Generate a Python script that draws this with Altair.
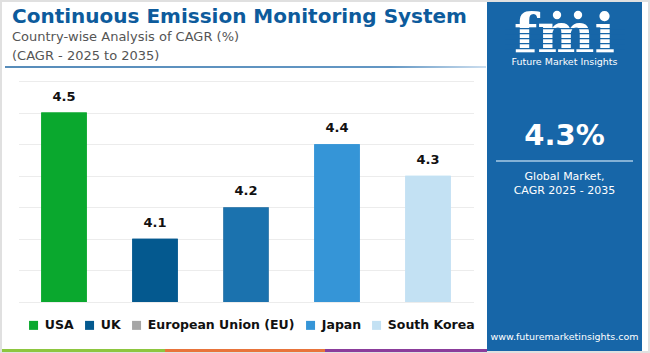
import altair as alt
import pandas as pd

# ---------------- data ----------------
countries = ["USA", "UK", "European Union (EU)", "Japan", "South Korea"]
cagr = [4.5, 4.1, 4.2, 4.4, 4.3]
bar_colors = ["#0aa82e", "#04598f", "#1b72ae", "#3595d7", "#c3e1f3"]
legend_colors = ["#0aa82e", "#04598f", "#a6a6a6", "#3595d7", "#c3e1f3"]
y_ticks = [3.9, 4.0, 4.1, 4.2, 4.3, 4.4, 4.5, 4.6]
y_base = 3.9

title_text = "Continuous Emission Monitoring System"
subtitle_1 = "Country-wise Analysis of CAGR (%)"
subtitle_2 = "(CAGR - 2025 to 2035)"
global_cagr = "4.3%"
panel_line_1 = "Global Market,"
panel_line_2 = "CAGR 2025 - 2035"
logo_text = "fmi"
brand_text = "Future Market Insights"
website_text = "www.futuremarketinsights.com"

# ---------------- layout ----------------
OX, OY = 18.5, 81
W, H = 455, 221
FONT = "DejaVu Sans"
PANEL = "#1766a8"

df = pd.DataFrame({"country": countries, "cagr": cagr, "region": countries})
one = pd.DataFrame({"k": [0]})


def px(v):
    return alt.value(v - OX)


def py(v):
    return alt.value(v - OY)


x_enc = alt.X("country:N", sort=countries,
              scale=alt.Scale(paddingInner=0.5, paddingOuter=0.25), axis=None)
y_enc = alt.Y("cagr:Q", scale=alt.Scale(domain=[y_ticks[0], y_ticks[-1]], zero=False, nice=False),
              axis=alt.Axis(values=y_ticks, grid=True, gridColor="#ececec", gridWidth=1,
                            labels=False, ticks=False, domain=False, title=None))

base = alt.Chart(df)

# under-layer bars carry the legend (legend swatch colours)
legend_bars = base.mark_bar().encode(
    x=x_enc, y=y_enc, y2=alt.datum(y_base),
    color=alt.Color("region:N", sort=countries,
                    scale=alt.Scale(domain=countries, range=legend_colors),
                    legend=alt.Legend(orient="none", legendX=8.8, legendY=238,
                                      direction="horizontal", title=None,
                                      symbolType="square", symbolSize=81,
                                      symbolOpacity=1, symbolStrokeWidth=0,
                                      labelFont=FONT, labelFontSize=12.5,
                                      labelFontWeight="bold", labelColor="#111111",
                                      labelLimit=300, columnPadding=9,
                                      labelOffset=5, padding=0)),
)

# visible bars
bars = base.mark_bar().encode(
    x=x_enc, y=y_enc, y2=alt.datum(y_base),
    fill=alt.Fill("country:N", sort=countries,
                  scale=alt.Scale(domain=countries, range=bar_colors), legend=None),
)

labels = base.mark_text(dy=-9, baseline="bottom", font=FONT, fontSize=13,
                        fontWeight="bold", color="#111111").encode(
    x=x_enc, y=y_enc, text=alt.Text("cagr:Q", format=".1f"))

dec = alt.Chart(one)

frame = dec.mark_rect(fillOpacity=0, stroke="#e0e0e0", strokeWidth=2).encode(
    x=px(1), x2=px(649), y=py(1), y2=py(352))

panel = dec.mark_rect(fill=PANEL).encode(x=px(487), x2=px(642), y=py(2), y2=py(351))

strip_g = dec.mark_rect(fill="#8dc63f").encode(x=px(2), x2=px(165), y=py(349), y2=py(352))
strip_o = dec.mark_rect(fill="#e8743b").encode(x=px(165), x2=px(325), y=py(349), y2=py(352))
strip_p = dec.mark_rect(fill="#8b3d9b").encode(x=px(325), x2=px(487), y=py(349), y2=py(352))

underline = dec.mark_rect(
    fill=alt.LinearGradient(gradient="linear", x1=0, x2=1, y1=0, y2=0,
                            stops=[alt.GradientStop(color="#1f66a3", offset=0),
                                   alt.GradientStop(color="#2f74b0", offset=0.8),
                                   alt.GradientStop(color="#bcd4ea", offset=1)])
).encode(x=px(5), x2=px(486), y=py(66.3), y2=py(67.8))

title = dec.mark_text(align="left", baseline="alphabetic", font=FONT, fontSize=20,
                      fontWeight="bold", color="#0d5b9c").encode(
    x=px(12), y=py(23), text=alt.value(title_text))
sub1 = dec.mark_text(align="left", baseline="alphabetic", font=FONT, fontSize=13,
                     color="#555555").encode(x=px(12), y=py(41), text=alt.value(subtitle_1))
sub2 = dec.mark_text(align="left", baseline="alphabetic", font=FONT, fontSize=13,
                     color="#555555").encode(x=px(12), y=py(60), text=alt.value(subtitle_2))

PC = 564.5
logo = dec.mark_text(align="center", baseline="alphabetic", font="DejaVu Serif",
                     fontSize=54, fontWeight="bold", color="white").encode(
    x=px(PC), y=py(52), text=alt.value(logo_text))
stripes = [dec.mark_rect(fill=PANEL).encode(x=px(505), x2=px(625), y=py(yy), y2=py(yy + 1.3))
           for yy in (28, 33, 38, 43, 48)]
dot1 = dec.mark_circle(size=70, color="white", opacity=1).encode(x=px(557), y=py(15))
dot2 = dec.mark_circle(size=70, color="white", opacity=1).encode(x=px(578), y=py(15))
brand = dec.mark_text(align="center", baseline="alphabetic", font=FONT, fontSize=9.5,
                      color="white").encode(x=px(PC), y=py(64.5), text=alt.value(brand_text))
big = dec.mark_text(align="center", baseline="alphabetic", font=FONT, fontSize=29,
                    fontWeight="bold", color="white").encode(
    x=px(PC), y=py(145), text=alt.value(global_cagr))
pline = dec.mark_rect(fill="#a9cbe6").encode(x=px(496), x2=px(633), y=py(160.3), y2=py(161.8))
p1 = dec.mark_text(align="center", baseline="alphabetic", font=FONT, fontSize=11,
                   color="white").encode(x=px(PC), y=py(180), text=alt.value(panel_line_1))
p2 = dec.mark_text(align="center", baseline="alphabetic", font=FONT, fontSize=11,
                   color="white").encode(x=px(PC), y=py(193.5), text=alt.value(panel_line_2))
web = dec.mark_text(align="center", baseline="alphabetic", font=FONT, fontSize=9.5,
                    color="white").encode(x=px(PC), y=py(340), text=alt.value(website_text))

chart = alt.layer(
    frame, panel, strip_g, strip_o, strip_p, underline,
    legend_bars, bars, labels,
    title, sub1, sub2, logo, *stripes, dot1, dot2, brand, big, pline, p1, p2, web,
).properties(
    width=W, height=H,
    autosize=alt.AutoSizeParams(type="none"),
    padding={"left": OX, "top": OY, "right": 650 - OX - W, "bottom": 353 - OY - H},
    background="white",
).configure_view(strokeWidth=0)

chart.save("out.html", embed_options={"renderer": "svg", "actions": False})
